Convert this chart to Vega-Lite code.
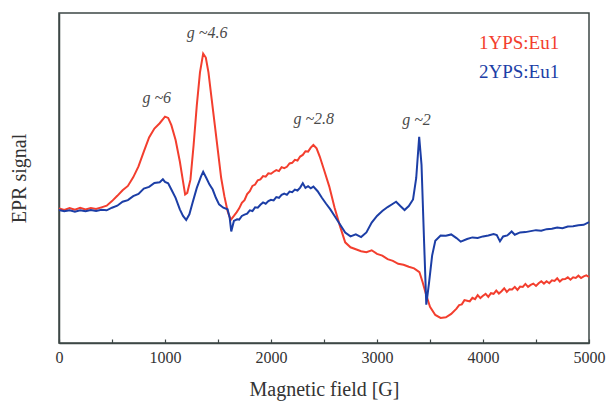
{
  "$schema": "https://vega.github.io/schema/vega-lite/v6.json",
  "width": 530,
  "height": 330,
  "autosize": {"type": "none"},
  "padding": {"left": 59, "top": 13, "right": 19, "bottom": 66},
  "background": "white",
  "config": {
    "view": {"stroke": "#3d4746", "strokeWidth": 1.5},
    "font": "Liberation Serif, Times New Roman, serif"
  },
  "datasets": {
    "curves": [
      {"field": 0, "signal": 40.8, "sample": "1YPS:Eu1"}, {"field": 50, "signal": 40.3, "sample": "1YPS:Eu1"}, {"field": 100, "signal": 40.9, "sample": "1YPS:Eu1"}, {"field": 150, "signal": 40.4, "sample": "1YPS:Eu1"}, {"field": 200, "signal": 41.0, "sample": "1YPS:Eu1"}, {"field": 250, "signal": 40.5, "sample": "1YPS:Eu1"}, {"field": 300, "signal": 40.9, "sample": "1YPS:Eu1"}, {"field": 350, "signal": 40.6, "sample": "1YPS:Eu1"}, {"field": 400, "signal": 41.1, "sample": "1YPS:Eu1"}, {"field": 450, "signal": 41.6, "sample": "1YPS:Eu1"}, {"field": 500, "signal": 43.0, "sample": "1YPS:Eu1"}, {"field": 550, "signal": 44.6, "sample": "1YPS:Eu1"}, {"field": 600, "signal": 46.3, "sample": "1YPS:Eu1"}, {"field": 650, "signal": 47.6, "sample": "1YPS:Eu1"}, {"field": 700, "signal": 50.2, "sample": "1YPS:Eu1"}, {"field": 750, "signal": 53.5, "sample": "1YPS:Eu1"}, {"field": 800, "signal": 58.0, "sample": "1YPS:Eu1"}, {"field": 850, "signal": 62.3, "sample": "1YPS:Eu1"}, {"field": 900, "signal": 65.0, "sample": "1YPS:Eu1"}, {"field": 950, "signal": 66.6, "sample": "1YPS:Eu1"}, {"field": 1000, "signal": 68.6, "sample": "1YPS:Eu1"}, {"field": 1030, "signal": 68.2, "sample": "1YPS:Eu1"}, {"field": 1060, "signal": 66.0, "sample": "1YPS:Eu1"}, {"field": 1100, "signal": 61.5, "sample": "1YPS:Eu1"}, {"field": 1140, "signal": 55.0, "sample": "1YPS:Eu1"}, {"field": 1170, "signal": 49.0, "sample": "1YPS:Eu1"}, {"field": 1190, "signal": 45.0, "sample": "1YPS:Eu1"}, {"field": 1210, "signal": 45.5, "sample": "1YPS:Eu1"}, {"field": 1240, "signal": 49.5, "sample": "1YPS:Eu1"}, {"field": 1270, "signal": 60.0, "sample": "1YPS:Eu1"}, {"field": 1300, "signal": 72.0, "sample": "1YPS:Eu1"}, {"field": 1330, "signal": 82.0, "sample": "1YPS:Eu1"}, {"field": 1360, "signal": 87.7, "sample": "1YPS:Eu1"}, {"field": 1385, "signal": 86.5, "sample": "1YPS:Eu1"}, {"field": 1410, "signal": 82.0, "sample": "1YPS:Eu1"}, {"field": 1440, "signal": 74.0, "sample": "1YPS:Eu1"}, {"field": 1470, "signal": 66.0, "sample": "1YPS:Eu1"}, {"field": 1500, "signal": 58.0, "sample": "1YPS:Eu1"}, {"field": 1530, "signal": 50.0, "sample": "1YPS:Eu1"}, {"field": 1560, "signal": 44.5, "sample": "1YPS:Eu1"}, {"field": 1590, "signal": 40.0, "sample": "1YPS:Eu1"}, {"field": 1620, "signal": 37.3, "sample": "1YPS:Eu1"}, {"field": 1650, "signal": 38.5, "sample": "1YPS:Eu1"}, {"field": 1675, "signal": 39.6, "sample": "1YPS:Eu1"}, {"field": 1700, "signal": 40.8, "sample": "1YPS:Eu1"}, {"field": 1725, "signal": 42.5, "sample": "1YPS:Eu1"}, {"field": 1750, "signal": 43.3, "sample": "1YPS:Eu1"}, {"field": 1775, "signal": 45.1, "sample": "1YPS:Eu1"}, {"field": 1800, "signal": 46.0, "sample": "1YPS:Eu1"}, {"field": 1825, "signal": 47.6, "sample": "1YPS:Eu1"}, {"field": 1850, "signal": 48.0, "sample": "1YPS:Eu1"}, {"field": 1875, "signal": 49.3, "sample": "1YPS:Eu1"}, {"field": 1900, "signal": 49.6, "sample": "1YPS:Eu1"}, {"field": 1925, "signal": 50.6, "sample": "1YPS:Eu1"}, {"field": 1950, "signal": 50.4, "sample": "1YPS:Eu1"}, {"field": 1975, "signal": 51.4, "sample": "1YPS:Eu1"}, {"field": 2000, "signal": 51.3, "sample": "1YPS:Eu1"}, {"field": 2025, "signal": 51.9, "sample": "1YPS:Eu1"}, {"field": 2050, "signal": 52.4, "sample": "1YPS:Eu1"}, {"field": 2075, "signal": 52.1, "sample": "1YPS:Eu1"}, {"field": 2100, "signal": 53.3, "sample": "1YPS:Eu1"}, {"field": 2125, "signal": 53.0, "sample": "1YPS:Eu1"}, {"field": 2150, "signal": 53.4, "sample": "1YPS:Eu1"}, {"field": 2175, "signal": 54.4, "sample": "1YPS:Eu1"}, {"field": 2200, "signal": 54.6, "sample": "1YPS:Eu1"}, {"field": 2225, "signal": 55.5, "sample": "1YPS:Eu1"}, {"field": 2250, "signal": 55.3, "sample": "1YPS:Eu1"}, {"field": 2275, "signal": 56.5, "sample": "1YPS:Eu1"}, {"field": 2300, "signal": 57.0, "sample": "1YPS:Eu1"}, {"field": 2325, "signal": 58.1, "sample": "1YPS:Eu1"}, {"field": 2350, "signal": 58.0, "sample": "1YPS:Eu1"}, {"field": 2375, "signal": 59.2, "sample": "1YPS:Eu1"}, {"field": 2400, "signal": 60.0, "sample": "1YPS:Eu1"}, {"field": 2430, "signal": 59.0, "sample": "1YPS:Eu1"}, {"field": 2460, "signal": 56.5, "sample": "1YPS:Eu1"}, {"field": 2500, "signal": 52.5, "sample": "1YPS:Eu1"}, {"field": 2550, "signal": 47.4, "sample": "1YPS:Eu1"}, {"field": 2600, "signal": 41.0, "sample": "1YPS:Eu1"}, {"field": 2650, "signal": 35.5, "sample": "1YPS:Eu1"}, {"field": 2700, "signal": 30.5, "sample": "1YPS:Eu1"}, {"field": 2750, "signal": 29.0, "sample": "1YPS:Eu1"}, {"field": 2800, "signal": 28.4, "sample": "1YPS:Eu1"}, {"field": 2850, "signal": 27.8, "sample": "1YPS:Eu1"}, {"field": 2900, "signal": 27.5, "sample": "1YPS:Eu1"}, {"field": 2950, "signal": 28.1, "sample": "1YPS:Eu1"}, {"field": 3000, "signal": 27.0, "sample": "1YPS:Eu1"}, {"field": 3050, "signal": 26.5, "sample": "1YPS:Eu1"}, {"field": 3100, "signal": 25.4, "sample": "1YPS:Eu1"}, {"field": 3150, "signal": 24.9, "sample": "1YPS:Eu1"}, {"field": 3200, "signal": 24.0, "sample": "1YPS:Eu1"}, {"field": 3250, "signal": 23.7, "sample": "1YPS:Eu1"}, {"field": 3300, "signal": 23.1, "sample": "1YPS:Eu1"}, {"field": 3350, "signal": 22.6, "sample": "1YPS:Eu1"}, {"field": 3400, "signal": 21.5, "sample": "1YPS:Eu1"}, {"field": 3430, "signal": 18.5, "sample": "1YPS:Eu1"}, {"field": 3460, "signal": 15.0, "sample": "1YPS:Eu1"}, {"field": 3500, "signal": 11.0, "sample": "1YPS:Eu1"}, {"field": 3550, "signal": 8.5, "sample": "1YPS:Eu1"}, {"field": 3600, "signal": 7.6, "sample": "1YPS:Eu1"}, {"field": 3650, "signal": 7.8, "sample": "1YPS:Eu1"}, {"field": 3700, "signal": 8.8, "sample": "1YPS:Eu1"}, {"field": 3750, "signal": 10.4, "sample": "1YPS:Eu1"}, {"field": 3775, "signal": 11.5, "sample": "1YPS:Eu1"}, {"field": 3800, "signal": 11.7, "sample": "1YPS:Eu1"}, {"field": 3825, "signal": 13.0, "sample": "1YPS:Eu1"}, {"field": 3850, "signal": 12.8, "sample": "1YPS:Eu1"}, {"field": 3875, "signal": 12.6, "sample": "1YPS:Eu1"}, {"field": 3900, "signal": 13.7, "sample": "1YPS:Eu1"}, {"field": 3925, "signal": 13.3, "sample": "1YPS:Eu1"}, {"field": 3950, "signal": 14.5, "sample": "1YPS:Eu1"}, {"field": 3975, "signal": 13.6, "sample": "1YPS:Eu1"}, {"field": 4000, "signal": 14.3, "sample": "1YPS:Eu1"}, {"field": 4025, "signal": 14.9, "sample": "1YPS:Eu1"}, {"field": 4050, "signal": 14.0, "sample": "1YPS:Eu1"}, {"field": 4075, "signal": 15.1, "sample": "1YPS:Eu1"}, {"field": 4100, "signal": 14.9, "sample": "1YPS:Eu1"}, {"field": 4125, "signal": 15.9, "sample": "1YPS:Eu1"}, {"field": 4150, "signal": 15.0, "sample": "1YPS:Eu1"}, {"field": 4175, "signal": 15.7, "sample": "1YPS:Eu1"}, {"field": 4200, "signal": 16.6, "sample": "1YPS:Eu1"}, {"field": 4225, "signal": 15.5, "sample": "1YPS:Eu1"}, {"field": 4250, "signal": 16.3, "sample": "1YPS:Eu1"}, {"field": 4275, "signal": 16.2, "sample": "1YPS:Eu1"}, {"field": 4300, "signal": 17.0, "sample": "1YPS:Eu1"}, {"field": 4325, "signal": 16.1, "sample": "1YPS:Eu1"}, {"field": 4350, "signal": 17.1, "sample": "1YPS:Eu1"}, {"field": 4375, "signal": 17.0, "sample": "1YPS:Eu1"}, {"field": 4400, "signal": 17.9, "sample": "1YPS:Eu1"}, {"field": 4425, "signal": 17.0, "sample": "1YPS:Eu1"}, {"field": 4450, "signal": 17.6, "sample": "1YPS:Eu1"}, {"field": 4475, "signal": 18.0, "sample": "1YPS:Eu1"}, {"field": 4500, "signal": 17.3, "sample": "1YPS:Eu1"}, {"field": 4525, "signal": 18.1, "sample": "1YPS:Eu1"}, {"field": 4550, "signal": 18.7, "sample": "1YPS:Eu1"}, {"field": 4575, "signal": 18.0, "sample": "1YPS:Eu1"}, {"field": 4600, "signal": 18.7, "sample": "1YPS:Eu1"}, {"field": 4625, "signal": 18.1, "sample": "1YPS:Eu1"}, {"field": 4650, "signal": 19.0, "sample": "1YPS:Eu1"}, {"field": 4675, "signal": 18.8, "sample": "1YPS:Eu1"}, {"field": 4700, "signal": 19.6, "sample": "1YPS:Eu1"}, {"field": 4725, "signal": 18.6, "sample": "1YPS:Eu1"}, {"field": 4750, "signal": 19.3, "sample": "1YPS:Eu1"}, {"field": 4775, "signal": 19.4, "sample": "1YPS:Eu1"}, {"field": 4800, "signal": 19.9, "sample": "1YPS:Eu1"}, {"field": 4825, "signal": 19.2, "sample": "1YPS:Eu1"}, {"field": 4850, "signal": 19.9, "sample": "1YPS:Eu1"}, {"field": 4875, "signal": 19.7, "sample": "1YPS:Eu1"}, {"field": 4900, "signal": 20.4, "sample": "1YPS:Eu1"}, {"field": 4925, "signal": 19.7, "sample": "1YPS:Eu1"}, {"field": 4950, "signal": 20.2, "sample": "1YPS:Eu1"}, {"field": 4975, "signal": 20.5, "sample": "1YPS:Eu1"}, {"field": 5000, "signal": 20.0, "sample": "1YPS:Eu1"},
      {"field": 0, "signal": 40.3, "sample": "2YPS:Eu1"}, {"field": 50, "signal": 39.9, "sample": "2YPS:Eu1"}, {"field": 100, "signal": 40.2, "sample": "2YPS:Eu1"}, {"field": 150, "signal": 39.8, "sample": "2YPS:Eu1"}, {"field": 200, "signal": 40.2, "sample": "2YPS:Eu1"}, {"field": 250, "signal": 39.9, "sample": "2YPS:Eu1"}, {"field": 300, "signal": 40.3, "sample": "2YPS:Eu1"}, {"field": 350, "signal": 40.0, "sample": "2YPS:Eu1"}, {"field": 400, "signal": 40.4, "sample": "2YPS:Eu1"}, {"field": 450, "signal": 40.2, "sample": "2YPS:Eu1"}, {"field": 500, "signal": 41.0, "sample": "2YPS:Eu1"}, {"field": 550, "signal": 41.6, "sample": "2YPS:Eu1"}, {"field": 600, "signal": 42.8, "sample": "2YPS:Eu1"}, {"field": 650, "signal": 43.3, "sample": "2YPS:Eu1"}, {"field": 700, "signal": 44.5, "sample": "2YPS:Eu1"}, {"field": 750, "signal": 45.2, "sample": "2YPS:Eu1"}, {"field": 800, "signal": 46.8, "sample": "2YPS:Eu1"}, {"field": 850, "signal": 47.3, "sample": "2YPS:Eu1"}, {"field": 900, "signal": 48.5, "sample": "2YPS:Eu1"}, {"field": 950, "signal": 48.7, "sample": "2YPS:Eu1"}, {"field": 980, "signal": 49.6, "sample": "2YPS:Eu1"}, {"field": 1000, "signal": 48.8, "sample": "2YPS:Eu1"}, {"field": 1030, "signal": 48.4, "sample": "2YPS:Eu1"}, {"field": 1060, "signal": 46.5, "sample": "2YPS:Eu1"}, {"field": 1100, "signal": 44.0, "sample": "2YPS:Eu1"}, {"field": 1140, "signal": 40.5, "sample": "2YPS:Eu1"}, {"field": 1170, "signal": 38.5, "sample": "2YPS:Eu1"}, {"field": 1200, "signal": 37.3, "sample": "2YPS:Eu1"}, {"field": 1230, "signal": 39.0, "sample": "2YPS:Eu1"}, {"field": 1260, "signal": 42.5, "sample": "2YPS:Eu1"}, {"field": 1300, "signal": 47.0, "sample": "2YPS:Eu1"}, {"field": 1340, "signal": 50.5, "sample": "2YPS:Eu1"}, {"field": 1360, "signal": 51.9, "sample": "2YPS:Eu1"}, {"field": 1390, "signal": 50.0, "sample": "2YPS:Eu1"}, {"field": 1420, "signal": 48.0, "sample": "2YPS:Eu1"}, {"field": 1450, "signal": 46.5, "sample": "2YPS:Eu1"}, {"field": 1480, "signal": 44.0, "sample": "2YPS:Eu1"}, {"field": 1510, "signal": 42.0, "sample": "2YPS:Eu1"}, {"field": 1550, "signal": 41.0, "sample": "2YPS:Eu1"}, {"field": 1590, "signal": 40.5, "sample": "2YPS:Eu1"}, {"field": 1610, "signal": 38.0, "sample": "2YPS:Eu1"}, {"field": 1625, "signal": 33.8, "sample": "2YPS:Eu1"}, {"field": 1650, "signal": 37.0, "sample": "2YPS:Eu1"}, {"field": 1680, "signal": 37.5, "sample": "2YPS:Eu1"}, {"field": 1700, "signal": 37.4, "sample": "2YPS:Eu1"}, {"field": 1725, "signal": 38.5, "sample": "2YPS:Eu1"}, {"field": 1750, "signal": 38.9, "sample": "2YPS:Eu1"}, {"field": 1775, "signal": 39.2, "sample": "2YPS:Eu1"}, {"field": 1800, "signal": 40.2, "sample": "2YPS:Eu1"}, {"field": 1825, "signal": 40.0, "sample": "2YPS:Eu1"}, {"field": 1850, "signal": 41.1, "sample": "2YPS:Eu1"}, {"field": 1875, "signal": 41.0, "sample": "2YPS:Eu1"}, {"field": 1900, "signal": 41.9, "sample": "2YPS:Eu1"}, {"field": 1925, "signal": 42.6, "sample": "2YPS:Eu1"}, {"field": 1950, "signal": 42.2, "sample": "2YPS:Eu1"}, {"field": 1975, "signal": 43.0, "sample": "2YPS:Eu1"}, {"field": 2000, "signal": 43.4, "sample": "2YPS:Eu1"}, {"field": 2025, "signal": 43.2, "sample": "2YPS:Eu1"}, {"field": 2050, "signal": 44.2, "sample": "2YPS:Eu1"}, {"field": 2075, "signal": 44.0, "sample": "2YPS:Eu1"}, {"field": 2100, "signal": 44.9, "sample": "2YPS:Eu1"}, {"field": 2125, "signal": 45.3, "sample": "2YPS:Eu1"}, {"field": 2150, "signal": 44.9, "sample": "2YPS:Eu1"}, {"field": 2175, "signal": 45.9, "sample": "2YPS:Eu1"}, {"field": 2200, "signal": 45.7, "sample": "2YPS:Eu1"}, {"field": 2225, "signal": 46.5, "sample": "2YPS:Eu1"}, {"field": 2250, "signal": 46.2, "sample": "2YPS:Eu1"}, {"field": 2275, "signal": 47.1, "sample": "2YPS:Eu1"}, {"field": 2300, "signal": 48.4, "sample": "2YPS:Eu1"}, {"field": 2325, "signal": 47.0, "sample": "2YPS:Eu1"}, {"field": 2350, "signal": 47.5, "sample": "2YPS:Eu1"}, {"field": 2375, "signal": 46.9, "sample": "2YPS:Eu1"}, {"field": 2400, "signal": 47.4, "sample": "2YPS:Eu1"}, {"field": 2440, "signal": 46.0, "sample": "2YPS:Eu1"}, {"field": 2480, "signal": 44.0, "sample": "2YPS:Eu1"}, {"field": 2520, "signal": 42.2, "sample": "2YPS:Eu1"}, {"field": 2560, "signal": 40.5, "sample": "2YPS:Eu1"}, {"field": 2600, "signal": 38.5, "sample": "2YPS:Eu1"}, {"field": 2650, "signal": 36.0, "sample": "2YPS:Eu1"}, {"field": 2700, "signal": 33.5, "sample": "2YPS:Eu1"}, {"field": 2750, "signal": 32.3, "sample": "2YPS:Eu1"}, {"field": 2800, "signal": 32.9, "sample": "2YPS:Eu1"}, {"field": 2850, "signal": 32.1, "sample": "2YPS:Eu1"}, {"field": 2900, "signal": 33.5, "sample": "2YPS:Eu1"}, {"field": 2950, "signal": 36.5, "sample": "2YPS:Eu1"}, {"field": 3000, "signal": 38.5, "sample": "2YPS:Eu1"}, {"field": 3050, "signal": 40.0, "sample": "2YPS:Eu1"}, {"field": 3100, "signal": 41.2, "sample": "2YPS:Eu1"}, {"field": 3150, "signal": 42.2, "sample": "2YPS:Eu1"}, {"field": 3180, "signal": 42.8, "sample": "2YPS:Eu1"}, {"field": 3220, "signal": 41.5, "sample": "2YPS:Eu1"}, {"field": 3260, "signal": 40.3, "sample": "2YPS:Eu1"}, {"field": 3300, "signal": 41.5, "sample": "2YPS:Eu1"}, {"field": 3340, "signal": 43.5, "sample": "2YPS:Eu1"}, {"field": 3370, "signal": 50.0, "sample": "2YPS:Eu1"}, {"field": 3398, "signal": 62.5, "sample": "2YPS:Eu1"}, {"field": 3420, "signal": 54.0, "sample": "2YPS:Eu1"}, {"field": 3445, "signal": 30.0, "sample": "2YPS:Eu1"}, {"field": 3465, "signal": 11.6, "sample": "2YPS:Eu1"}, {"field": 3490, "signal": 18.0, "sample": "2YPS:Eu1"}, {"field": 3520, "signal": 26.5, "sample": "2YPS:Eu1"}, {"field": 3550, "signal": 31.0, "sample": "2YPS:Eu1"}, {"field": 3600, "signal": 32.6, "sample": "2YPS:Eu1"}, {"field": 3650, "signal": 32.5, "sample": "2YPS:Eu1"}, {"field": 3700, "signal": 32.9, "sample": "2YPS:Eu1"}, {"field": 3750, "signal": 31.8, "sample": "2YPS:Eu1"}, {"field": 3790, "signal": 30.7, "sample": "2YPS:Eu1"}, {"field": 3850, "signal": 31.5, "sample": "2YPS:Eu1"}, {"field": 3900, "signal": 32.0, "sample": "2YPS:Eu1"}, {"field": 3950, "signal": 31.8, "sample": "2YPS:Eu1"}, {"field": 4000, "signal": 32.3, "sample": "2YPS:Eu1"}, {"field": 4050, "signal": 32.6, "sample": "2YPS:Eu1"}, {"field": 4100, "signal": 33.0, "sample": "2YPS:Eu1"}, {"field": 4130, "signal": 32.7, "sample": "2YPS:Eu1"}, {"field": 4160, "signal": 30.8, "sample": "2YPS:Eu1"}, {"field": 4190, "signal": 32.3, "sample": "2YPS:Eu1"}, {"field": 4230, "signal": 32.6, "sample": "2YPS:Eu1"}, {"field": 4270, "signal": 33.8, "sample": "2YPS:Eu1"}, {"field": 4300, "signal": 32.8, "sample": "2YPS:Eu1"}, {"field": 4350, "signal": 33.5, "sample": "2YPS:Eu1"}, {"field": 4400, "signal": 33.6, "sample": "2YPS:Eu1"}, {"field": 4450, "signal": 33.9, "sample": "2YPS:Eu1"}, {"field": 4500, "signal": 34.2, "sample": "2YPS:Eu1"}, {"field": 4550, "signal": 34.0, "sample": "2YPS:Eu1"}, {"field": 4600, "signal": 34.5, "sample": "2YPS:Eu1"}, {"field": 4650, "signal": 34.6, "sample": "2YPS:Eu1"}, {"field": 4700, "signal": 35.0, "sample": "2YPS:Eu1"}, {"field": 4750, "signal": 34.8, "sample": "2YPS:Eu1"}, {"field": 4800, "signal": 35.3, "sample": "2YPS:Eu1"}, {"field": 4850, "signal": 35.4, "sample": "2YPS:Eu1"}, {"field": 4900, "signal": 35.7, "sample": "2YPS:Eu1"}, {"field": 4950, "signal": 35.8, "sample": "2YPS:Eu1"}, {"field": 5000, "signal": 36.6, "sample": "2YPS:Eu1"}
    ],
    "peaks": [
      {"field": 922, "signal": 74.1, "label": "g ~6"},
      {"field": 1397, "signal": 93.8, "label": "g ~4.6"},
      {"field": 2403, "signal": 68.0, "label": "g ~2.8"},
      {"field": 3373, "signal": 67.5, "label": "g ~2"}
    ],
    "legend": [
      {"field": 4340, "signal": 90.9, "sample": "1YPS:Eu1"},
      {"field": 4340, "signal": 82.1, "sample": "2YPS:Eu1"}
    ]
  },
  "layer": [
    {
      "data": {"name": "curves"},
      "mark": {"type": "line", "strokeWidth": 2, "interpolate": "linear"},
      "encoding": {
        "x": {
          "field": "field", "type": "quantitative",
          "scale": {"domain": [0, 5000], "nice": false},
          "axis": {
            "title": "Magnetic field [G]",
            "values": [0, 500, 1000, 1500, 2000, 2500, 3000, 3500, 4000, 4500, 5000],
            "labelExpr": "datum.value % 1000 === 0 ? datum.label : ''",
            "format": "d",
            "grid": false,
            "domainColor": "#3d4746", "domainWidth": 1.5,
            "tickColor": "#3d4746", "tickSize": -4, "tickWidth": 1.2,
            "labelFont": "Liberation Serif, Times New Roman, serif", "labelFontSize": 16, "labelColor": "#333",
            "labelPadding": 10, "labelFlush": false, "labelOverlap": false,
            "titleFont": "Liberation Serif, Times New Roman, serif", "titleFontSize": 20, "titleFontWeight": "normal", "titleColor": "#333",
            "titlePadding": 14
          }
        },
        "y": {
          "field": "signal", "type": "quantitative",
          "scale": {"domain": [0, 100], "nice": false},
          "axis": {
            "title": "EPR signal",
            "labels": false, "ticks": false, "grid": false,
            "domainColor": "#3d4746", "domainWidth": 1.5,
            "titleFont": "Liberation Serif, Times New Roman, serif", "titleFontSize": 20, "titleFontWeight": "normal", "titleColor": "#333",
            "titlePadding": 30
          }
        },
        "color": {
          "field": "sample", "type": "nominal",
          "scale": {"domain": ["1YPS:Eu1", "2YPS:Eu1"], "range": ["#f33e2e", "#1c3ea6"]},
          "legend": null
        }
      }
    },
    {
      "data": {"name": "peaks"},
      "mark": {"type": "text", "font": "Liberation Serif, Times New Roman, serif", "fontStyle": "italic", "fontSize": 16, "color": "#4a4a4a", "baseline": "middle"},
      "encoding": {
        "x": {"field": "field", "type": "quantitative"},
        "y": {"field": "signal", "type": "quantitative"},
        "text": {"field": "label"}
      }
    },
    {
      "data": {"name": "legend"},
      "mark": {"type": "text", "font": "Liberation Serif, Times New Roman, serif", "fontSize": 19, "baseline": "middle"},
      "encoding": {
        "x": {"field": "field", "type": "quantitative"},
        "y": {"field": "signal", "type": "quantitative"},
        "text": {"field": "sample"},
        "color": {"field": "sample", "type": "nominal", "legend": null}
      }
    }
  ]
}
